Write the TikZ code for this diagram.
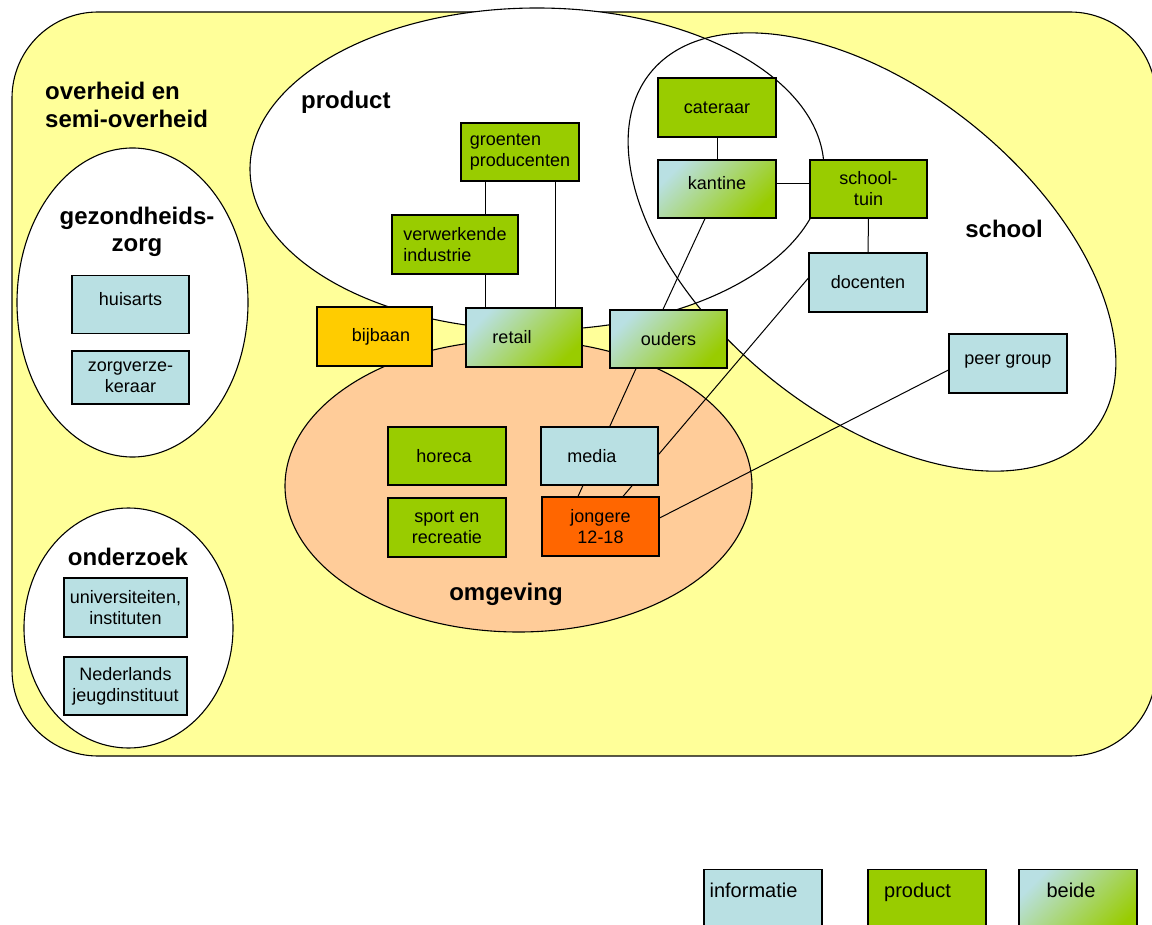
\documentclass[tikz,border=0pt]{standalone}
\usepackage{fontspec}
\setmainfont{Liberation Sans}
\definecolor{yel}{HTML}{FFFF99}
\definecolor{grn}{HTML}{99CC00}
\definecolor{lblue}{RGB}{185,224,227}
\definecolor{orng}{HTML}{FF6600}
\definecolor{gold}{HTML}{FFCC00}
\definecolor{peach}{HTML}{FFCC99}
\pgfdeclarelayer{ell}
\pgfdeclarelayer{con}
\pgfsetlayers{ell,con,main}
\begin{document}
\begin{tikzpicture}[x=1pt,y=-1pt,
  bx/.style={draw=black, line width=1.2pt, inner sep=0pt, align=center,
    font=\fontsize{18}{21}\selectfont, minimum width=117pt, minimum height=58pt},
  info/.style={bx, fill=lblue},
  prod/.style={bx, fill=grn},
  both/.style={bx, shading=axis, top color=lblue, bottom color=grn, shading angle=45},
  lgd/.style={draw=black, line width=1.2pt, inner sep=0pt, anchor=north,
    minimum width=118pt, text height=28pt, text depth=40pt,
    font=\fontsize{20}{24}\selectfont},
  hdr/.style={inner sep=0pt, font=\fontsize{24}{28}\selectfont\bfseries},
  con/.style={draw=black, line width=1pt},
  outl/.style={draw=black, line width=1.1pt}]
\useasboundingbox (0,0) rectangle (1152,925);
\clip (0,0) rectangle (1152,925);

% boxes
\node[info] (huisarts) at (130.5,304.5) {\raisebox{12pt}{huisarts}};
\node[info, minimum height=53pt] (zorg) at (130.5,377.5) {zorgverze-\\keraar};
\node[info, minimum width=123pt, minimum height=59pt] (univ) at (125.5,607.5) {universiteiten,\\instituten};
\node[info, minimum width=123pt] (nji) at (125.5,686) {Nederlands\\jeugdinstituut};
\node[bx, fill=gold, minimum width=115pt, minimum height=59pt] (bijbaan) at (374.5,336.5) {bijbaan\hspace*{-13pt}};
\node[both, minimum width=116pt, minimum height=59pt] (retail) at (524,337.5) {\hspace*{-24pt}retail};
\node[both] (ouders) at (668.5,339) {ouders};
\node[prod, minimum width=118pt, align=left] (groenten) at (520,152) {groenten\\producenten};
\node[prod, minimum width=126pt, minimum height=59pt, align=left] (verw) at (455,244.5) {verwerkende\\industrie};
\node[prod, minimum width=118pt, minimum height=59pt] (cater) at (717,107.5) {cateraar};
\node[both, minimum width=118pt] (kantine) at (717,189) {\raisebox{12pt}{kantine}};
\node[prod] (tuin) at (868.5,189) {school-\\tuin};
\node[info, minimum width=118pt, minimum height=59pt] (doc) at (868,282.5) {docenten};
\node[info, minimum width=118pt, minimum height=59pt] (peer) at (1008,363.5) {\raisebox{7pt}{peer group}};
\node[prod, minimum width=118pt] (horeca) at (447,456) {\hspace*{-6pt}horeca};
\node[prod, minimum width=118pt, minimum height=59pt] (sport) at (447,527.5) {sport en\\recreatie};
\node[info] (media) at (599.5,456) {\hspace*{-15pt}media};
\node[bx, fill=orng, minimum height=59pt] (jong) at (600.5,526.5) {jongere\\12-18};

% legend
\node[lgd, fill=lblue] (linfo) at (763,869) {\hspace*{-19pt}informatie};
\node[lgd, fill=grn] (lprod) at (927,869) {\hspace*{-19pt}product};
\node[lgd, shading=axis, top color=lblue, bottom color=grn, shading angle=45] (lbeide) at (1078,869) {\hspace*{-14pt}beide};

% headings
\node[hdr, anchor=north west, align=left] (overheid) at (45,82) {overheid en\\semi-overheid};
\node[hdr, anchor=base west] (lproduct) at (301,109) {product};
\node[hdr, anchor=north, align=center, font=\fontsize{24}{27}\selectfont\bfseries] (lgez) at (137,207) {gezondheids-\\zorg};
\node[hdr, anchor=base] (lschool) at (1004,238) {school};
\node[hdr, anchor=base] (lomg) at (506,600) {omgeving};
\node[hdr, anchor=base] (lond) at (128,565) {onderzoek};

% regions
\begin{pgfonlayer}{ell}
\draw[outl, fill=yel, rounded corners=86pt] (12,12) rectangle (1156,756);
\fill[white] (537,169) ellipse [x radius=287, y radius=161];
\fill[white, rotate around={-39:(872,252)}] (872,252) ellipse [x radius=285, y radius=162];
\draw[outl] (537,169) ellipse [x radius=287, y radius=161];
\draw[outl, rotate around={-39:(872,252)}] (872,252) ellipse [x radius=285, y radius=162];
\draw[outl, fill=peach] (518.5,486) ellipse [x radius=233.5, y radius=146];
\draw[outl, fill=white] (132.5,302.5) ellipse [x radius=115.5, y radius=154.5];
\draw[outl, fill=white] (128.5,628) ellipse [x radius=104.5, y radius=120];
\end{pgfonlayer}

% connectors
\begin{pgfonlayer}{con}
\draw[con] ([xshift=-35pt]groenten.south) -- ([xshift=30pt]verw.north);
\draw[con] ([xshift=30pt]verw.south) -- ([xshift=-39pt]retail.north);
\draw[con] ([xshift=35pt]groenten.south) -- ([xshift=31pt]retail.north);
\draw[con] (cater) -- (kantine);
\draw[con] ([yshift=5pt]kantine.east) -- ([yshift=5pt]tuin.west);
\draw[con] (tuin.south) -- (doc.north);
\draw[con] ([xshift=-12pt]kantine.south) -- ([xshift=-5.5pt]ouders.north);
\draw[con] ([xshift=-32.5pt]ouders.south) -- ([xshift=-22.5pt]jong.north);
\draw[con] ([yshift=4.5pt]doc.west) -- ([xshift=22.5pt]jong.north);
\draw[con] ([yshift=-6.5pt]peer.west) -- ([yshift=8.5pt]jong.east);
\end{pgfonlayer}
\end{tikzpicture}
\end{document}
